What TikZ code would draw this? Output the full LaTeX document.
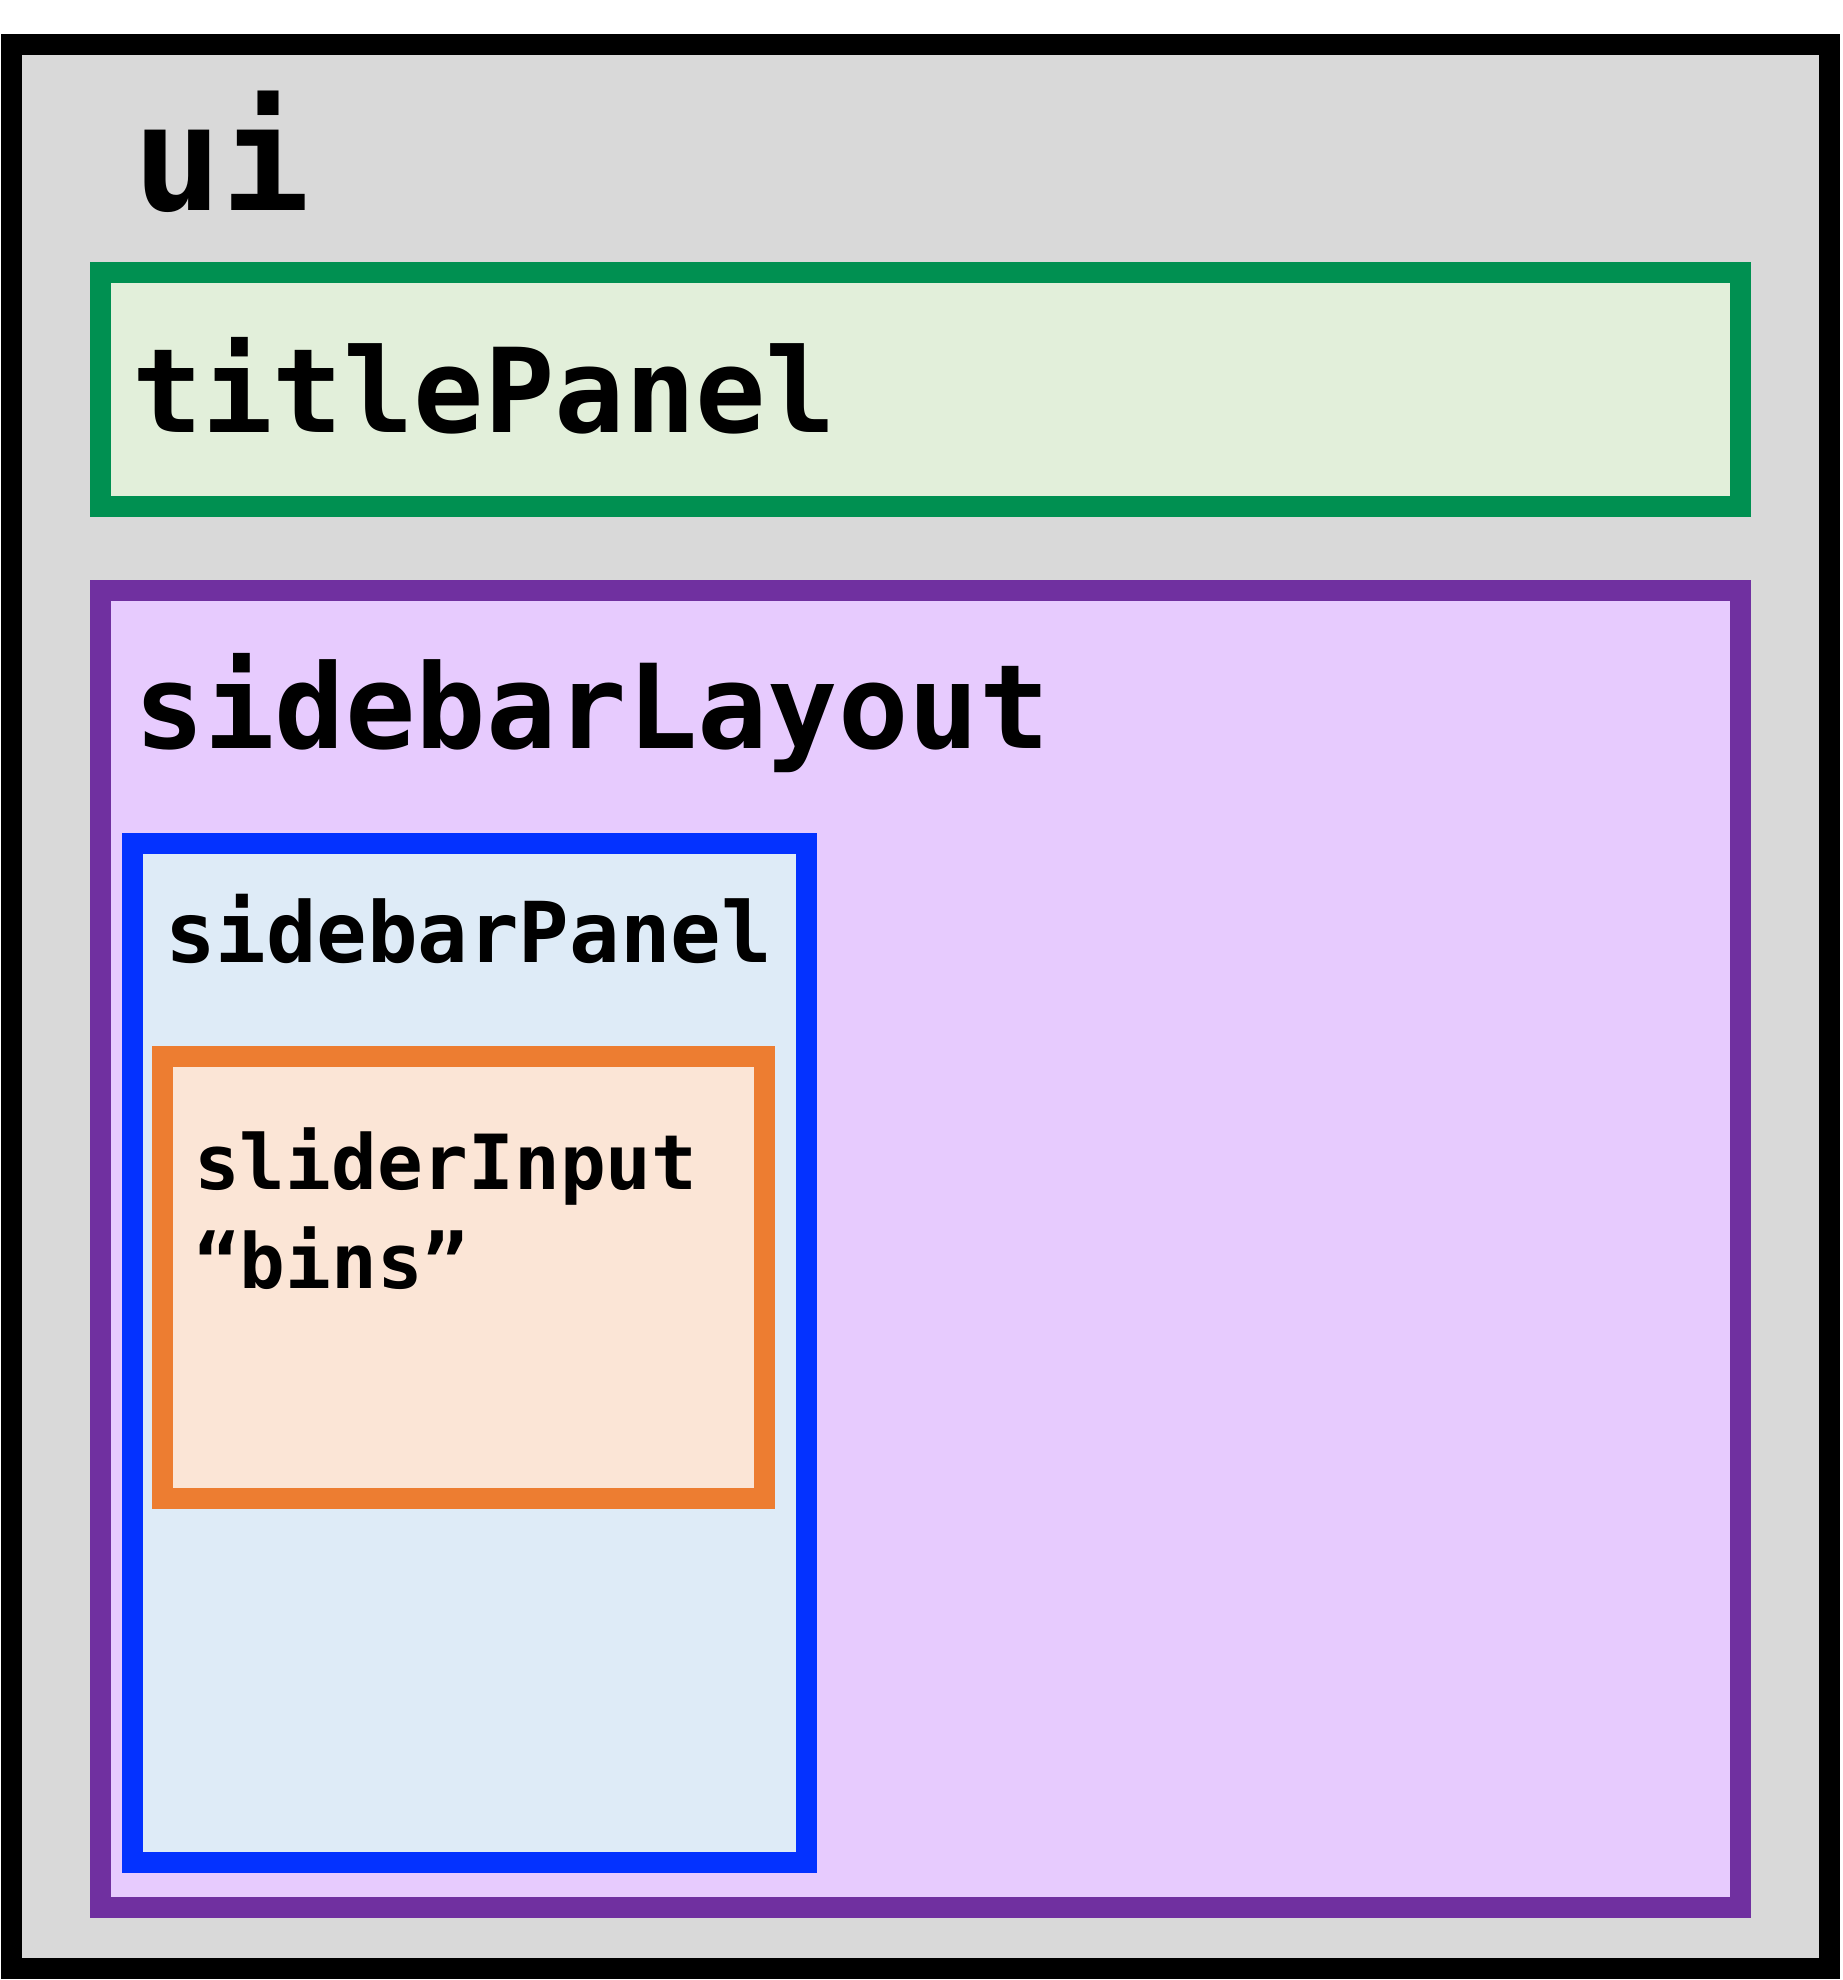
\documentclass[tikz,border=0pt]{standalone}
\usepackage{fontspec}
\setmonofont{DejaVu Sans Mono}
\definecolor{uigray}{HTML}{D9D9D9}
\definecolor{tpline}{HTML}{009051}
\definecolor{tpfill}{HTML}{E2EFDA}
\definecolor{slline}{HTML}{7030A0}
\definecolor{slfill}{HTML}{E7CBFE}
\definecolor{spline}{HTML}{0432FF}
\definecolor{spfill}{HTML}{DEEBF7}
\definecolor{siline}{HTML}{ED7D31}
\definecolor{sifill}{HTML}{FBE5D6}
\tikzset{
  box/.style={rectangle, line width=21pt, inner sep=0pt, outer sep=0pt},
  lbl/.style={anchor=base west, inner sep=0pt, outer sep=0pt, align=left, font=\ttfamily\bfseries}
}
\begin{document}
\begin{tikzpicture}[x=1pt,y=-1pt]
\useasboundingbox (0,0) rectangle (1842,1980);
\fill[white] (0,0) rectangle (1842,1980);
% boxes
\node (ui) [box, draw=black, fill=uigray, minimum width=1818pt, minimum height=1924pt] at (920.5,1006.5) {};
\node (title) [box, draw=tpline, fill=tpfill, minimum width=1640pt, minimum height=234pt] at (920.5,389.2) {};
\node (layout) [box, draw=slline, fill=slfill, minimum width=1640pt, minimum height=1317pt] at (920.5,1249) {};
\node (side) [box, draw=spline, fill=spfill, minimum width=674pt, minimum height=1019pt] at (469.5,1353) {};
\node (slider) [box, draw=siline, fill=sifill, minimum width=602pt, minimum height=442pt] at (463.5,1277.5) {};
% labels
\node (uilbl) [lbl, font=\ttfamily\bfseries\fontsize{147}{147}\selectfont] at (133,211) {ui};
\node (titlelbl) [lbl, font=\ttfamily\bfseries\fontsize{117}{117}\selectfont] at (132,432.7) {titlePanel};
\node (layoutlbl) [lbl, font=\ttfamily\bfseries\fontsize{117}{117}\selectfont] at (134,748.3) {sidebarLayout};
\node (sidelbl) [lbl, font=\ttfamily\bfseries\fontsize{84}{84}\selectfont] at (165,962) {sidebarPanel};
\node (sliderlbl) [lbl, font=\ttfamily\bfseries\fontsize{76}{99}\selectfont] at (194,1288) {sliderInput\\“bins”};
\end{tikzpicture}
\end{document}
